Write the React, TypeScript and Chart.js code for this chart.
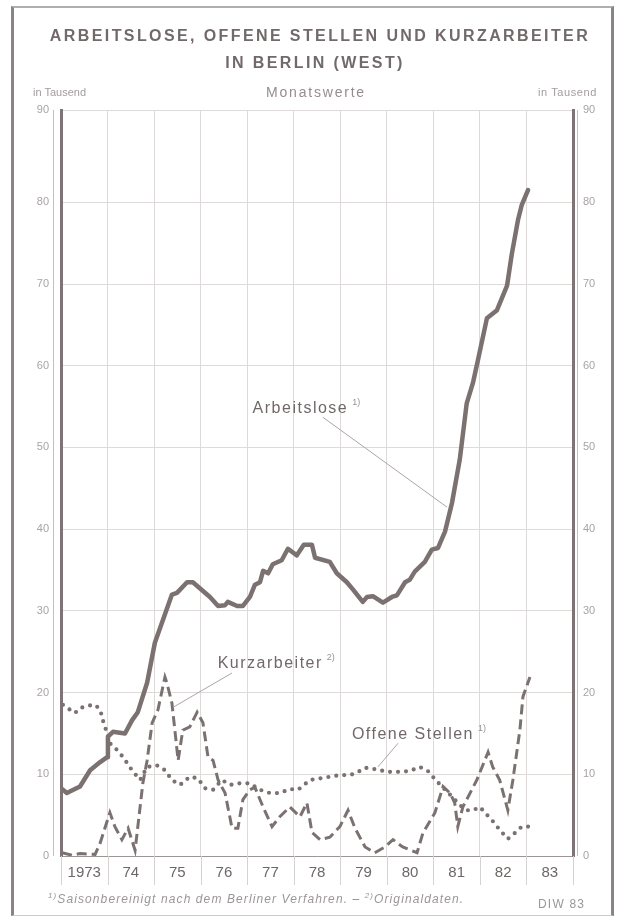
import React, { useEffect, useRef } from "react";
import { Chart, registerables } from "chart.js";

Chart.register(...registerables);

// Months counted from January 1973 (0) to the end of 1983 (132)
const yearLabels = ["1973", "74", "75", "76", "77", "78", "79", "80", "81", "82", "83"];
const yTickValues = [0, 10, 20, 30, 40, 50, 60, 70, 80, 90];

const arbMonths = [0, 1.5, 4.9, 7.5, 10.1, 11.9, 12.1, 13.4, 16.5, 18.3, 19.8, 22.2, 24.2, 26.3, 28.6, 29.9, 32.5, 34, 38.4, 40.5, 42.3, 43, 45.4, 46.9, 48.7, 50, 51.3, 52.1, 53.4, 54.6, 56.9, 58.5, 60.8, 62.6, 64.7, 65.5, 69.3, 71.1, 73.7, 75.3, 77.8, 78.9, 80.4, 83, 85.3, 86.6, 88.7, 89.9, 91.2, 93.8, 95.6, 97.2, 99, 100.8, 102.8, 104.6, 106.2, 107.5, 109.8, 112.4, 115, 116.2, 117.8, 118.8, 120.4];
const arbValues = [8.3, 7.7, 8.5, 10.5, 11.5, 12.1, 14.6, 15.2, 15.0, 16.6, 17.6, 21.2, 26.1, 28.9, 32.0, 32.2, 33.5, 33.5, 31.7, 30.6, 30.7, 31.1, 30.6, 30.6, 31.7, 33.2, 33.5, 34.9, 34.6, 35.7, 36.2, 37.6, 36.8, 38.1, 38.1, 36.5, 36.0, 34.6, 33.5, 32.6, 31.1, 31.7, 31.8, 31.0, 31.7, 31.9, 33.5, 33.8, 34.8, 36.0, 37.5, 37.7, 39.7, 43.2, 48.5, 55.4, 57.9, 60.7, 65.8, 66.8, 69.8, 73.6, 77.8, 79.7, 81.5];

const kurzMonths = [0.3, 2.8, 4.9, 8.8, 10.1, 12.6, 13.9, 15.7, 17.3, 19.1, 21.1, 22.2, 23.5, 25.0, 26.8, 27.3, 28.6, 30.2, 31.4, 33.2, 35.1, 36.6, 37.9, 39.2, 40.5, 42.3, 44.1, 45.6, 46.9, 48.7, 50.0, 52.1, 54.4, 56.4, 59.0, 61.6, 63.4, 64.7, 66.8, 69.3, 71.9, 74.0, 75.8, 78.4, 80.9, 83.5, 85.6, 88.1, 91.8, 93.3, 96.4, 98.5, 100.3, 101.5, 102.3, 103.6, 107.2, 110.1, 111.3, 113.1, 115.2, 116.5, 118.3, 119.1, 120.9];
const kurzValues = [0.4, 0.1, 0.3, 0.2, 1.6, 5.3, 3.6, 2.0, 3.4, 0.7, 8.9, 11.7, 16.3, 17.9, 21.9, 21.2, 18.7, 11.7, 15.4, 15.8, 17.6, 16.3, 12.1, 11.7, 9.3, 7.7, 3.4, 3.4, 6.9, 8.1, 8.4, 6.0, 3.6, 4.8, 6.0, 4.8, 6.5, 2.9, 2.0, 2.3, 3.6, 5.6, 3.4, 1.1, 0.4, 1.1, 2.0, 1.1, 0.4, 2.8, 5.3, 8.5, 7.7, 6.5, 3.6, 6.0, 9.3, 12.7, 10.9, 9.3, 5.6, 9.3, 15.4, 19.5, 21.9];

const offMonths = [0.5, 2.3, 3.6, 4.9, 7.0, 8.8, 10.1, 10.8, 11.9, 12.6, 14.4, 16.0, 18.3, 20.4, 22.2, 24.7, 26.8, 28.6, 30.7, 33.2, 35.3, 37.1, 39.2, 41.5, 43.6, 46.1, 48.7, 51.3, 53.9, 56.4, 59.0, 61.1, 64.2, 66.8, 69.3, 71.9, 74.5, 76.3, 78.4, 81.4, 84.0, 87.4, 89.9, 92.5, 94.6, 96.4, 98.2, 99.7, 101.5, 103.4, 104.9, 106.2, 108.0, 109.3, 111.1, 113.1, 115.2, 117.0, 118.8, 121.4];
const offValues = [18.5, 17.9, 17.5, 18.1, 18.4, 18.5, 17.9, 16.6, 15.0, 13.8, 13.0, 12.1, 10.5, 9.3, 10.9, 11.1, 10.5, 9.3, 8.7, 9.7, 9.5, 8.3, 8.1, 9.3, 8.7, 8.9, 8.9, 8.1, 7.7, 7.7, 8.2, 8.1, 9.3, 9.5, 9.7, 9.9, 9.9, 10.2, 10.8, 10.6, 10.3, 10.3, 10.4, 10.9, 10.4, 9.4, 8.5, 7.8, 6.9, 6.0, 5.6, 5.6, 6.0, 5.3, 4.4, 3.2, 2.1, 2.8, 3.6, 3.6];

// Series labels placed in data coordinates (month, value) with leader lines
const noteTexts = ["Arbeitslose", "Kurzarbeiter", "Offene Stellen"];
const noteSups = ["1)", "2)", "1)"];
const noteAt = [[49.4, 54.8], [40.4, 23.6], [75, 14.9]];
const noteLeaderFrom = [[67.5, 53.7], [44.1, 22.4], [86.9, 13.8]];
const noteLeaderTo = [[99.5, 42.7], [28.9, 18.2], [81.7, 10.9]];

const TOP = 91.3;
const LINE = "#7b7171";
const GRID = "#dedada";
const FONT = "'Liberation Sans', Arial, sans-serif";

const decorPlugin = {
  id: "decor",
  afterDraw(chart: any) {
    const { ctx, chartArea, scales } = chart;
    const xs = scales.x;
    const ys = scales.y;
    ctx.save();
    // year separators below the axis
    ctx.strokeStyle = "#d6d2d2";
    ctx.lineWidth = 1;
    for (let i = 0; i <= yearLabels.length; i++) {
      const px = Math.round(xs.getPixelForValue(i * 12)) + 0.5;
      ctx.beginPath();
      ctx.moveTo(px, chartArea.bottom);
      ctx.lineTo(px, chartArea.bottom + 29);
      ctx.stroke();
    }
    // thin companion lines outside both axes
    ctx.strokeStyle = "#c4bebe";
    ctx.beginPath();
    ctx.moveTo(chartArea.left - 7.5, chartArea.top);
    ctx.lineTo(chartArea.left - 7.5, chartArea.bottom);
    ctx.moveTo(chartArea.right + 4.5, chartArea.top);
    ctx.lineTo(chartArea.right + 4.5, chartArea.bottom);
    ctx.stroke();

    // notes
    for (let i = 0; i < noteTexts.length; i++) {
      const fx = xs.getPixelForValue(noteLeaderFrom[i][0]);
      const fy = ys.getPixelForValue(noteLeaderFrom[i][1]);
      const tx = xs.getPixelForValue(noteLeaderTo[i][0]);
      const ty = ys.getPixelForValue(noteLeaderTo[i][1]);
      ctx.strokeStyle = "#aba5a5";
      ctx.lineWidth = 1;
      ctx.beginPath();
      ctx.moveTo(fx, fy);
      ctx.lineTo(tx, ty);
      ctx.stroke();

      const lx = xs.getPixelForValue(noteAt[i][0]);
      const ly = ys.getPixelForValue(noteAt[i][1]);
      ctx.fillStyle = "#716868";
      ctx.font = `16px ${FONT}`;
      (ctx as any).letterSpacing = "1.5px";
      ctx.textBaseline = "middle";
      ctx.textAlign = "left";
      ctx.fillText(noteTexts[i], lx, ly);
      const w = ctx.measureText(noteTexts[i]).width;
      ctx.font = `9px ${FONT}`;
      (ctx as any).letterSpacing = "0px";
      ctx.fillStyle = "#9a9393";
      ctx.fillText(noteSups[i], lx + w + 4, ly - 6);
    }
    ctx.restore();
  },
};

export default function App() {
  const ref = useRef<HTMLCanvasElement>(null);

  useEffect(() => {
    const pts = (xs: number[], vs: number[]) => xs.map((x, i) => ({ x, y: vs[i] }));
    const chart = new Chart(ref.current as HTMLCanvasElement, {
      type: "line",
      data: {
        datasets: [
          {
            label: "Arbeitslose",
            data: pts(arbMonths, arbValues),
            borderColor: LINE,
            borderWidth: 4.5,
            borderJoinStyle: "round",
            borderCapStyle: "round",
            pointRadius: 0,
            tension: 0,
            yAxisID: "y",
          },
          {
            label: "Kurzarbeiter",
            data: pts(kurzMonths, kurzValues),
            borderColor: LINE,
            borderWidth: 3,
            borderDash: [10, 5],
            pointRadius: 0,
            tension: 0,
            yAxisID: "y",
          },
          {
            label: "Offene Stellen",
            data: pts(offMonths, offValues),
            borderColor: LINE,
            borderWidth: 4.2,
            borderDash: [0, 8],
            borderCapStyle: "round",
            pointRadius: 0,
            tension: 0,
            yAxisID: "y",
          },
        ],
      },
      options: {
        responsive: false,
        animation: false,
        events: [],
        layout: { padding: { top: 110, bottom: 36, left: 0, right: 0 } },
        plugins: { legend: { display: false }, tooltip: { enabled: false }, title: { display: false } },
        scales: {
          x: {
            type: "linear",
            min: 0,
            max: 132,
            afterBuildTicks: (s: any) => {
              const t = [];
              for (let v = 0; v <= 132; v += 6) t.push({ value: v });
              s.ticks = t;
            },
            afterFit: (s: any) => {
              s.height = 30;
            },
            grid: {
              drawTicks: false,
              lineWidth: 1,
              color: (c: any) => (c.tick && c.tick.value % 12 === 0 ? GRID : "rgba(0,0,0,0)"),
            },
            border: { display: true, color: "#9b9595", width: 1 },
            ticks: {
              autoSkip: false,
              maxRotation: 0,
              minRotation: 0,
              padding: 8,
              color: "#6e6767",
              font: { family: FONT, size: 15 },
              callback: (v: any) => (v % 12 === 6 ? yearLabels[(v - 6) / 12] : ""),
            },
          },
          y: {
            type: "linear",
            position: "left",
            min: 0,
            max: TOP,
            afterBuildTicks: (s: any) => {
              s.ticks = yTickValues.map((v) => ({ value: v === 90 ? TOP : v }));
            },
            afterFit: (s: any) => {
              s.width = 61;
            },
            grid: { drawTicks: false, color: GRID, lineWidth: 1 },
            border: { display: true, color: "#7d7575", width: 3 },
            ticks: {
              padding: 12,
              color: "#aaa3a3",
              font: { family: FONT, size: 11 },
              callback: (v: any) => (v >= 90 ? "90" : String(v)),
            },
          },
          y2: {
            type: "linear",
            position: "right",
            min: 0,
            max: TOP,
            afterBuildTicks: (s: any) => {
              s.ticks = yTickValues.map((v) => ({ value: v === 90 ? TOP : v }));
            },
            afterFit: (s: any) => {
              s.width = 52;
            },
            grid: { drawTicks: false, drawOnChartArea: false },
            border: { display: true, color: "#7d7575", width: 3 },
            ticks: {
              padding: 10,
              color: "#aaa3a3",
              font: { family: FONT, size: 11 },
              callback: (v: any) => (v >= 90 ? "90" : String(v)),
            },
          },
        },
      },
      plugins: [decorPlugin],
    } as any);
    return () => chart.destroy();
  }, []);

  const abs = (o: any) => ({ position: "absolute" as const, ...o });

  return (
    <div style={abs({ left: 0, top: 0, width: 625, height: 922, background: "#fff", fontFamily: FONT, overflow: "hidden" })}>
      <div
        style={abs({
          left: 11,
          top: 6,
          width: 603,
          height: 910,
          borderLeft: "3px solid #8b8484",
          borderRight: "3px solid #8b8484",
          borderTop: "2px solid #b3aeae",
          borderBottom: "1px solid #cfcaca",
          boxSizing: "border-box",
        })}
      />
      <canvas ref={ref} width={625} height={922} style={abs({ left: 0, top: 0, width: 625, height: 922 })} />
      <div style={abs({ left: 0, width: 640, top: 26, height: 20, lineHeight: "20px", textAlign: "center", fontWeight: 700, fontSize: 16, letterSpacing: 2.4, color: "#726a6a" })}>
        ARBEITSLOSE, OFFENE STELLEN UND KURZARBEITER
      </div>
      <div style={abs({ left: 0, width: 630, top: 53, height: 20, lineHeight: "20px", textAlign: "center", fontWeight: 700, fontSize: 16, letterSpacing: 2.4, color: "#726a6a" })}>
        IN BERLIN (WEST)
      </div>
      <div style={abs({ left: 0, width: 632, top: 84, height: 16, lineHeight: "16px", textAlign: "center", fontSize: 14, letterSpacing: 1.8, color: "#948d8d" })}>
        Monatswerte
      </div>
      <div style={abs({ left: 33, top: 85, height: 14, lineHeight: "14px", fontSize: 11, color: "#a39d9d" })}>in Tausend</div>
      <div style={abs({ right: 28, top: 85, height: 14, lineHeight: "14px", fontSize: 11, letterSpacing: 0.6, color: "#a39d9d" })}>in Tausend</div>
      <div style={abs({ left: 48, top: 889, height: 14, lineHeight: "14px", fontSize: 12, letterSpacing: 1.1, fontStyle: "italic", color: "#9c9696", whiteSpace: "nowrap" })}>
        <sup style={{ fontSize: 8 }}>1)</sup>Saisonbereinigt nach dem Berliner Verfahren. – <sup style={{ fontSize: 8 }}>2)</sup>Originaldaten.
      </div>
      <div style={abs({ left: 538, top: 897, height: 14, lineHeight: "14px", fontSize: 12, letterSpacing: 1.2, color: "#9c9696" })}>DIW 83</div>
    </div>
  );
}
